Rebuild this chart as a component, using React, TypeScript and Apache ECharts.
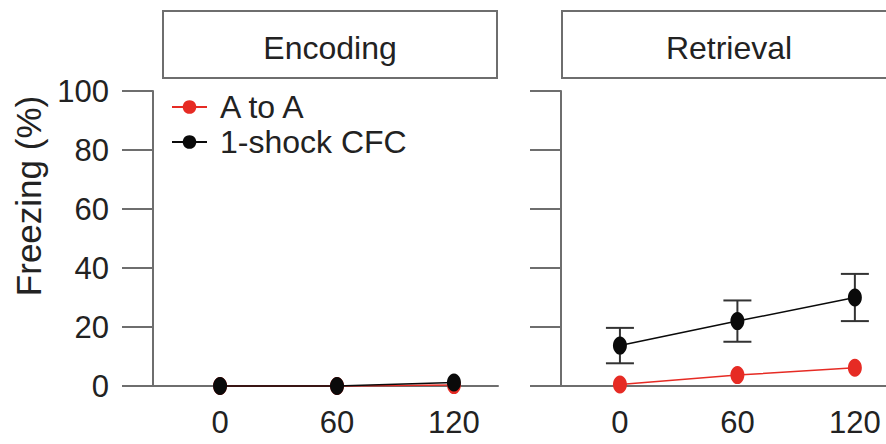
import React, { useEffect, useRef } from "react";
import * as echarts from "echarts";

const timePoints = [0, 60, 120];
const tickLabels = [0, 60, 120];
const encAtoA = [0, 0, 0.3];
const encShock = [0, 0, 1.2];
const retAtoA = [0.5, 3.7, 6.2];
const retShock = [13.7, 22, 30];
const retShockErr = [6, 7, 8];
const seriesNames = ["A to A", "1-shock CFC"];
const panelTitles = ["Encoding", "Retrieval"];
const yAxisTitle = "Freezing (%)";

const RED = "#e62b24";
const BLACK = "#0a0a0a";
const GRAY = "#6e6e6e";
const FONT = "'Liberation Sans', Arial, sans-serif";

export default function App() {
  const ref = useRef<HTMLDivElement>(null);
  useEffect(() => {
    if (!ref.current) return;
    const chart = echarts.init(ref.current, null, { renderer: "svg" });
    const pairs = (vals: number[]) => timePoints.map((t, i) => [t, vals[i]]);
    const errData = timePoints.map((t, i) => [t, retShock[i], retShockErr[i]]);

    const xAxisBase = (min: number, max: number, idx: number) => ({
      type: "value",
      gridIndex: idx,
      min,
      max,
      axisLine: { show: true, onZero: false, lineStyle: { color: GRAY, width: 2 } },
      axisTick: { show: false },
      splitLine: { show: false },
      axisLabel: {
        customValues: tickLabels,
        fontSize: 31,
        color: "#222",
        fontFamily: FONT,
        margin: 21,
      },
    });
    const yAxisBase = (idx: number, showLabel: boolean) => ({
      type: "value",
      gridIndex: idx,
      min: 0,
      max: 100,
      interval: 20,
      axisLine: { show: true, onZero: false, lineStyle: { color: GRAY, width: 2 } },
      axisTick: { show: true, length: 31, lineStyle: { color: GRAY, width: 2 } },
      splitLine: { show: false },
      axisLabel: {
        show: showLabel,
        fontSize: 31,
        color: "#222",
        fontFamily: FONT,
        margin: 44,
      },
    });

    const lineSeries = (name: string, vals: number[], color: string, idx: number) => ({
      type: "line",
      name,
      xAxisIndex: idx,
      yAxisIndex: idx,
      data: pairs(vals),
      symbol: "circle",
      symbolSize: [14, 18],
      clip: false,
      lineStyle: { color, width: 1.5 },
      itemStyle: { color },
      z: name === seriesNames[1] ? 4 : 3,
    });

    chart.setOption({
      animation: false,
      backgroundColor: "#fff",
      grid: [
        { left: 153, top: 91, width: 345, height: 295 },
        { left: 561, top: 91, width: 325, height: 295 },
      ],
      xAxis: [xAxisBase(-34.4, 142.6, 0), xAxisBase(-30.1, 135.9, 1)],
      yAxis: [yAxisBase(0, true), yAxisBase(1, false)],
      legend: {
        data: seriesNames,
        orient: "vertical",
        left: 166,
        top: 86,
        itemWidth: 35,
        itemHeight: 17,
        itemGap: 3,
        textStyle: { fontSize: 32, color: "#222", fontFamily: FONT, padding: [0, 0, 0, 8] },
      },
      graphic: [
        {
          type: "text",
          x: 28,
          y: 196,
          rotation: Math.PI / 2,
          style: {
            text: yAxisTitle,
            fontSize: 35,
            fontFamily: FONT,
            fill: "#222",
            align: "center",
            verticalAlign: "middle",
          },
        },
        {
          type: "rect",
          shape: { x: 163, y: 11, width: 334, height: 67 },
          style: { fill: "#fff", stroke: GRAY, lineWidth: 2 },
        },
        {
          type: "text",
          x: 330,
          y: 48,
          style: {
            text: panelTitles[0],
            fontSize: 32,
            fontFamily: FONT,
            fill: "#222",
            align: "center",
            verticalAlign: "middle",
          },
        },
        {
          type: "rect",
          shape: { x: 562, y: 11, width: 334, height: 67 },
          style: { fill: "#fff", stroke: GRAY, lineWidth: 2 },
        },
        {
          type: "text",
          x: 729,
          y: 48,
          style: {
            text: panelTitles[1],
            fontSize: 32,
            fontFamily: FONT,
            fill: "#222",
            align: "center",
            verticalAlign: "middle",
          },
        },
      ],
      series: [
        lineSeries(seriesNames[0], encAtoA, RED, 0),
        lineSeries(seriesNames[1], encShock, BLACK, 0),
        {
          type: "custom",
          xAxisIndex: 1,
          yAxisIndex: 1,
          data: errData,
          z: 2,
          silent: true,
          renderItem: (params: any, api: any) => {
            const x = api.value(0);
            const m = api.value(1);
            const e = api.value(2);
            const top = api.coord([x, m + e]);
            const bot = api.coord([x, m - e]);
            const hw = 14;
            const st = { stroke: "#333", lineWidth: 2 };
            return {
              type: "group",
              children: [
                { type: "line", shape: { x1: top[0], y1: top[1], x2: bot[0], y2: bot[1] }, style: st },
                { type: "line", shape: { x1: top[0] - hw, y1: top[1], x2: top[0] + hw, y2: top[1] }, style: st },
                { type: "line", shape: { x1: bot[0] - hw, y1: bot[1], x2: bot[0] + hw, y2: bot[1] }, style: st },
              ],
            };
          },
        },
        lineSeries(seriesNames[0], retAtoA, RED, 1),
        lineSeries(seriesNames[1], retShock, BLACK, 1),
      ],
    });
    return () => chart.dispose();
  }, []);
  return (
    <div
      ref={ref}
      style={{ position: "fixed", left: 0, top: 0, width: 886, height: 444, background: "#fff" }}
    />
  );
}
